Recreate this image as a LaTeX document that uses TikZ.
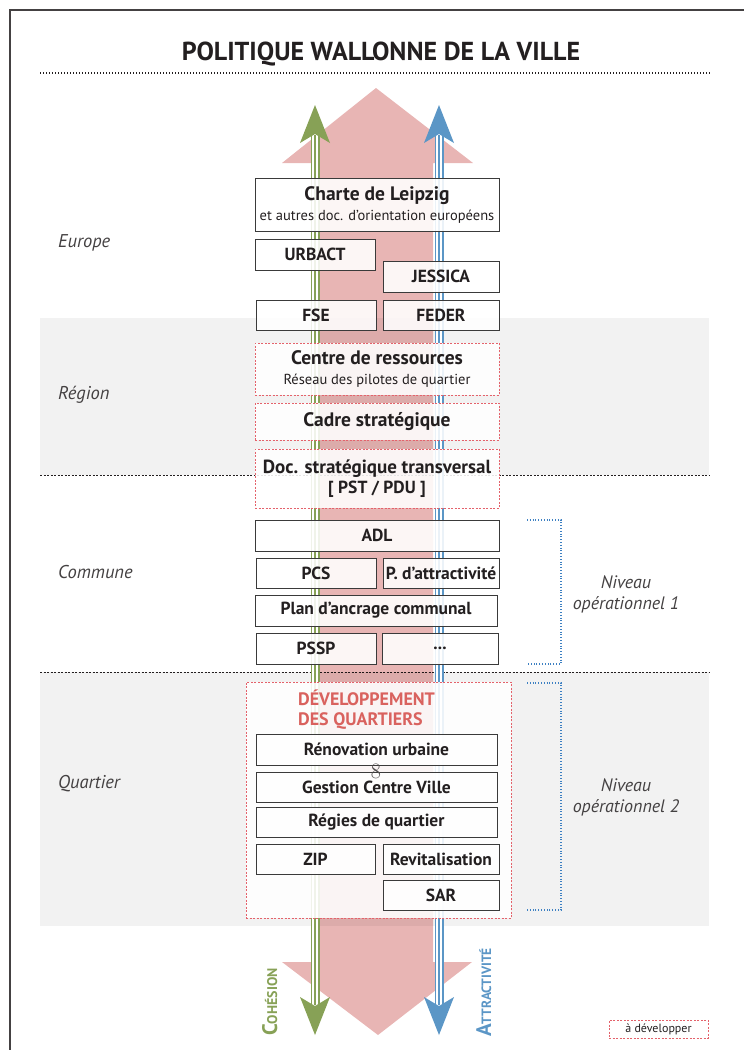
\documentclass[tikz,border=0pt]{standalone}
\usepackage{fontspec}
\setsansfont{PT Sans}
\definecolor{pinkarrow}{HTML}{E8B5B4}
\definecolor{cohgreen}{HTML}{87A156}
\definecolor{attblue}{HTML}{5B96C6}
\definecolor{brackblue}{HTML}{3D80C2}
\definecolor{todored}{HTML}{E4626B}
\definecolor{devred}{HTML}{D9625E}
\definecolor{bandgray}{HTML}{F2F2F2}
\definecolor{boxline}{HTML}{3A3A3A}
\definecolor{ink}{HTML}{231F20}
\begin{document}
\begin{tikzpicture}[x=1pt,y=-1pt,
    every node/.style={font=\sffamily, text=ink},
    box/.style={draw=boxline, line width=0.8pt, fill=white, fill opacity=0.88, text opacity=1, inner sep=0pt, align=center, font=\sffamily\bfseries\fontsize{17.5}{20}\selectfont},
    todo/.style={box, draw=todored, dash pattern=on 2pt off 1.5pt, line width=0.7pt},
    zone/.style={anchor=west, inner sep=0pt, text=ink!85, font=\sffamily\itshape\fontsize{18.5}{22}\selectfont},
    niveau/.style={align=center, text=ink!85, font=\sffamily\itshape\fontsize{18}{21}\selectfont},
    sep/.style={ink, line width=0.8pt, dash pattern=on 2pt off 1.5pt},
    bracket/.style={brackblue, line width=1.1pt, dash pattern=on 1pt off 1.8pt}]
\useasboundingbox (0,0) rectangle (744,1050);
\draw[ink!85, line width=1.2pt] (744,10) -- (10,10) -- (10,1050);
\node[font=\sffamily\bfseries\fontsize{26}{30}\selectfont] (title) at (381,54) {POLITIQUE WALLONNE DE LA VILLE};
\draw[ink, line width=1.3pt, dash pattern=on 1pt off 2pt] (40,73) -- (711,73);
\fill[bandgray] (40,318) rectangle (709,475);
\fill[bandgray] (40,672) rectangle (709,926);
\draw[sep] (40,475) -- (709,475);
\draw[sep] (40,672) -- (709,672);
\begin{scope}[blend mode=multiply]
\fill[pinkarrow] (376,88) -- (473,163) -- (433,163) -- (433,962) -- (472,962) -- (378,1035)
   -- (282,962) -- (320,962) -- (320,163) -- (282,163) -- cycle;
\end{scope}
\foreach \xc/\col in {315/cohgreen, 439/attblue} {
  \draw[\col, line width=9pt] (\xc,135) -- (\xc,1005);
  \draw[white, line width=5.5pt] (\xc,135) -- (\xc,1005);
  \draw[\col, line width=1.4pt] (\xc,135) -- (\xc,1005);
  \fill[\col] (\xc,105) -- (\xc+15,143) -- (\xc,134) -- (\xc-15,143) -- cycle;
  \fill[\col] (\xc,1035) -- (\xc+15,997) -- (\xc,1006) -- (\xc-15,997) -- cycle;
}
\node[rotate=90, anchor=base west, inner sep=0pt, text=cohgreen, font=\sffamily\bfseries] (coh) at (277,1036)
   {{\fontsize{21}{21}\selectfont C}{\fontsize{14}{14}\selectfont OHÉSION}};
\node[rotate=90, anchor=base west, inner sep=0pt, text=attblue, font=\sffamily\bfseries] (att) at (491,1037)
   {{\fontsize{21}{21}\selectfont A}{\fontsize{13.5}{14}\selectfont TTRACTIVITÉ}};
\node[zone] (europe) at (58,243) {Europe};
\node[zone] (region) at (58,395) {Région};
\node[zone] (commune) at (58,572) {Commune};
\node[zone] (quartier) at (58,784) {Quartier};
\node[box, minimum width=244pt, minimum height=53pt] (charte) at (377,204.5)
   {{\fontsize{19.5}{20}\selectfont Charte de Leipzig}\\{\mdseries\fontsize{14.5}{16}\selectfont et autres doc. d’orientation européens}};
\node[box, minimum width=120pt, minimum height=31pt] (urbact) at (315,254.5) {URBACT};
\node[box, minimum width=116pt, minimum height=31pt] (jessica) at (441,276.5) {JESSICA};
\node[box, minimum width=120pt, minimum height=30pt] (fse) at (316,315) {FSE};
\node[box, minimum width=116pt, minimum height=30pt] (feder) at (441,315) {FEDER};
\node[todo, minimum width=244pt, minimum height=52pt] (centre) at (377,369)
   {{\fontsize{19.5}{19}\selectfont Centre de ressources}\\{\mdseries\fontsize{14.5}{15}\selectfont Réseau des pilotes de quartier}};
\node[todo, minimum width=244pt, minimum height=37pt] (cadre) at (377,421.5) {\fontsize{19.5}{20}\selectfont Cadre stratégique};
\node[todo, minimum width=244pt, minimum height=59pt] (doc) at (377,478.5)
   {\fontsize{19}{22}\selectfont Doc. stratégique transversal\\{}[ PST / PDU ]};
\node[box, minimum width=244pt, minimum height=31pt] (adl) at (377,535.5) {ADL};
\node[box, minimum width=120pt, minimum height=30pt] (pcs) at (316,573) {PCS};
\node[box, minimum width=116pt, minimum height=30pt] (pattr) at (441,573) {P. d’attractivité};
\node[box, minimum width=242pt, minimum height=31pt] (plan) at (376,610.5) {Plan d’ancrage communal};
\node[box, minimum width=120pt, minimum height=31pt] (pssp) at (316,648.5) {PSSP};
\node[box, minimum width=116pt, minimum height=31pt] (etc) at (440,648.5) {...};
\node[todo, minimum width=265pt, minimum height=236pt] (dev) at (378.5,800) {};
\node[anchor=north west, inner sep=0pt, align=left, text=devred, font=\sffamily\bfseries\fontsize{18}{20}\selectfont] (devtitle) at (298,690)
   {DÉVELOPPEMENT\\DES QUARTIERS};
\node[box, minimum width=241pt, minimum height=31pt] (renov) at (376.5,749.5) {Rénovation urbaine};
\node[box, minimum width=241pt, minimum height=30pt] (gestion) at (376.5,787) {Gestion Centre Ville};
\node[box, minimum width=241pt, minimum height=30pt] (regies) at (376.5,822) {Régies de quartier};
\node[box, minimum width=119pt, minimum height=30pt] (zip) at (315.5,859) {ZIP};
\node[box, minimum width=116pt, minimum height=30pt] (revit) at (441,859) {Revitalisation};
\node[box, minimum width=116pt, minimum height=30pt] (sar) at (441,895) {SAR};
\node[inner sep=0pt, text=ink!80, font=\rmfamily\fontsize{22}{22}\selectfont] (folio) at (376,771) {8};
\draw[bracket] (527,520) -- (561,520) -- (561,664) -- (527,664);
\draw[bracket] (527,683) -- (561,683) -- (561,910) -- (527,910);
\node[niveau] (niv1) at (626,594) {Niveau\\opérationnel 1};
\node[niveau] (niv2) at (626,797) {Niveau\\opérationnel 2};
\node[todo, minimum width=99pt, minimum height=18pt, font=\sffamily\fontsize{12}{12}\selectfont] (legend) at (658.5,1029) {à développer};
\end{tikzpicture}
\end{document}
